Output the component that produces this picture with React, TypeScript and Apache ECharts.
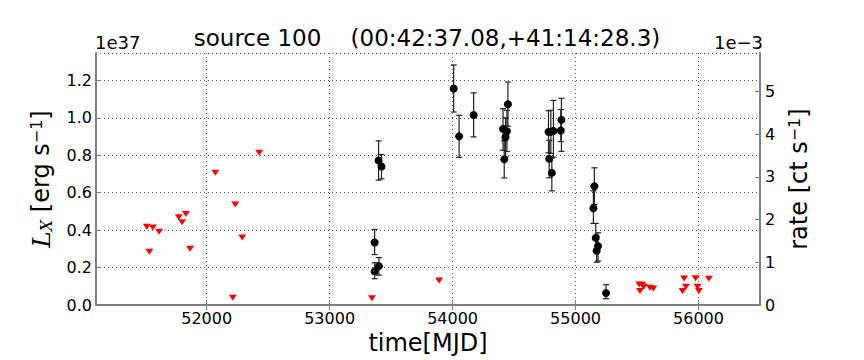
import React, { useEffect, useRef } from "react";
import * as echarts from "echarts";

// Detections (luminosity in units of 1e37 erg/s)
const detMJD = [53366, 53366, 53401, 53398, 53422, 54009, 54053, 54171, 54410, 54420, 54431, 54442, 54450, 54780, 54786, 54799, 54807, 54820, 54880, 54885, 55145, 55153, 55164, 55172, 55183, 55248];
const detL = [0.334, 0.180, 0.208, 0.772, 0.740, 1.156, 0.901, 1.015, 0.941, 0.779, 0.896, 0.928, 1.072, 0.925, 0.781, 0.925, 0.706, 0.930, 0.932, 0.989, 0.517, 0.635, 0.359, 0.290, 0.315, 0.064];
const detLo = [0.270, 0.141, 0.160, 0.667, 0.674, 1.031, 0.789, 0.898, 0.827, 0.679, 0.790, 0.820, 0.955, 0.813, 0.680, 0.810, 0.610, 0.789, 0.873, 0.821, 0.436, 0.537, 0.288, 0.229, 0.235, 0.034];
const detHi = [0.404, 0.226, 0.254, 0.877, 0.804, 1.282, 1.013, 1.133, 1.049, 0.878, 1.000, 1.040, 1.191, 1.038, 0.880, 1.040, 0.786, 1.093, 1.044, 1.104, 0.610, 0.733, 0.436, 0.368, 0.386, 0.109];

// Upper limits
const ulMJD = [51513, 51562, 51613, 51534, 51773, 51800, 51830, 51865, 52070, 52232, 52213, 52289, 52427, 53344, 53890, 55518, 55540, 55524, 55556, 55605, 55632, 55883, 55870, 55897, 55976, 55992, 56003, 56084];
const ulL = [0.418, 0.414, 0.391, 0.285, 0.469, 0.443, 0.487, 0.301, 0.706, 0.537, 0.039, 0.361, 0.813, 0.037, 0.132, 0.110, 0.109, 0.075, 0.098, 0.093, 0.089, 0.142, 0.075, 0.098, 0.144, 0.098, 0.075, 0.141];

const xTicks = [52000, 53000, 54000, 55000, 56000];
const titleText = "source 100    (00:42:37.08,+41:14:28.3)";

const FONT = "DejaVu Sans";

export default function App() {
  const ref = useRef<HTMLDivElement>(null);
  useEffect(() => {
    const chart = echarts.init(ref.current!, null, { renderer: "svg" });
    const spine = { show: true, lineStyle: { color: "#7f7f7f", width: 2 } };
    const tickStyle = { show: true, inside: true, length: 5, lineStyle: { color: "#7f7f7f", width: 1 } };
    const grid = { type: [1, 3], color: "#555", width: 1 };
    chart.setOption({
      animation: false,
      grid: { left: 96, right: 104, top: 53, bottom: 54 },
      graphic: [
        { type: "text", x: 95, y: 51, style: { text: "1e37", fontSize: 18, fontFamily: FONT, fill: "#000", align: "left", verticalAlign: "bottom" } },
        { type: "text", x: 763, y: 51, style: { text: "1e\u22123", fontSize: 18, fontFamily: FONT, fill: "#000", align: "right", verticalAlign: "bottom" } },
        { type: "text", x: 427, y: 38, style: { text: titleText, fontSize: 23, fontFamily: FONT, fill: "#000", align: "center", verticalAlign: "middle" } },
      ],
      xAxis: [
        {
          type: "value", min: 51100, max: 56500, position: "bottom",
          axisLine: spine,
          axisTick: { ...tickStyle, customValues: xTicks },
          axisLabel: { customValues: xTicks, fontSize: 16, fontFamily: FONT, color: "#000", margin: 5, formatter: (v: number) => String(v) },
          splitLine: { show: true, lineStyle: grid },
          name: "time[MJD]", nameLocation: "middle", nameGap: 24,
          nameTextStyle: { fontSize: 24, fontFamily: FONT, color: "#000" },
        },
        {
          type: "value", min: 51100, max: 56500, position: "top",
          axisLine: spine,
          axisTick: { ...tickStyle, customValues: xTicks },
          axisLabel: { show: false },
          splitLine: { show: false },
        },
      ],
      yAxis: [
        {
          type: "value", min: 0, max: 1.346, interval: 0.2, position: "left",
          axisLine: spine, axisTick: tickStyle,
          axisLabel: { fontSize: 16, fontFamily: FONT, color: "#000", showMaxLabel: false, margin: 4, formatter: (v: number) => v.toFixed(1) },
          splitLine: { show: true, lineStyle: grid },
          name: "{i|L}{sub|X} [erg s{sup|\u22121}]", nameLocation: "middle", nameRotate: 90, nameGap: 42,
          nameTextStyle: {
            fontSize: 24, fontFamily: FONT, color: "#000",
            rich: {
              i: { fontSize: 25, fontStyle: "italic", fontFamily: "DejaVu Serif", color: "#000" },
              sub: { fontSize: 16, fontFamily: "DejaVu Serif", fontStyle: "italic", verticalAlign: "bottom", padding: [10, 0, 0, 0], color: "#000" },
              sup: { fontSize: 16, fontFamily: FONT, verticalAlign: "top", padding: [0, 0, 10, 0], color: "#000" },
            },
          },
        },
        {
          type: "value", min: 0, max: 5.9, interval: 1, position: "right",
          axisLine: spine, axisTick: tickStyle,
          axisLabel: { fontSize: 16, fontFamily: FONT, color: "#000", showMaxLabel: false, margin: 5 },
          splitLine: { show: false },
          name: "rate [ct s{sup|\u22121}]", nameLocation: "middle", nameRotate: 90, nameGap: 21,
          nameTextStyle: {
            fontSize: 24, fontFamily: FONT, color: "#000",
            rich: {
              sup: { fontSize: 16, fontFamily: FONT, verticalAlign: "top", padding: [0, 0, 10, 0], color: "#000" },
            },
          },
        },
      ],
      series: [
        {
          type: "custom", xAxisIndex: 0, yAxisIndex: 0,
          data: detMJD.map((x, i) => [x, detLo[i], detHi[i]]),
          encode: { x: 0, y: [1, 2] },
          renderItem: (params: any, api: any) => {
            const x = api.value(0);
            const p1 = api.coord([x, api.value(1)]);
            const p2 = api.coord([x, api.value(2)]);
            const w = 3;
            const st = { stroke: "#222", lineWidth: 1.2 };
            return {
              type: "group",
              children: [
                { type: "line", shape: { x1: p1[0], y1: p1[1], x2: p2[0], y2: p2[1] }, style: st },
                { type: "line", shape: { x1: p1[0] - w, y1: p1[1], x2: p1[0] + w, y2: p1[1] }, style: st },
                { type: "line", shape: { x1: p2[0] - w, y1: p2[1], x2: p2[0] + w, y2: p2[1] }, style: st },
              ],
            };
          },
          z: 2,
        },
        {
          type: "scatter", xAxisIndex: 0, yAxisIndex: 0,
          data: detMJD.map((x, i) => [x, detL[i]]),
          symbol: "circle", symbolSize: 8,
          itemStyle: { color: "#000", opacity: 1 }, z: 3,
        },
        {
          type: "scatter", xAxisIndex: 0, yAxisIndex: 0,
          data: ulMJD.map((x, i) => [x, ulL[i]]),
          symbol: "triangle", symbolRotate: 180, symbolSize: [8, 6],
          itemStyle: { color: "#ff0000", opacity: 1 }, z: 3,
        },
      ],
    });
    return () => chart.dispose();
  }, []);
  return <div ref={ref} style={{ position: "absolute", left: 0, top: 0, width: 864, height: 360 }} />;
}
